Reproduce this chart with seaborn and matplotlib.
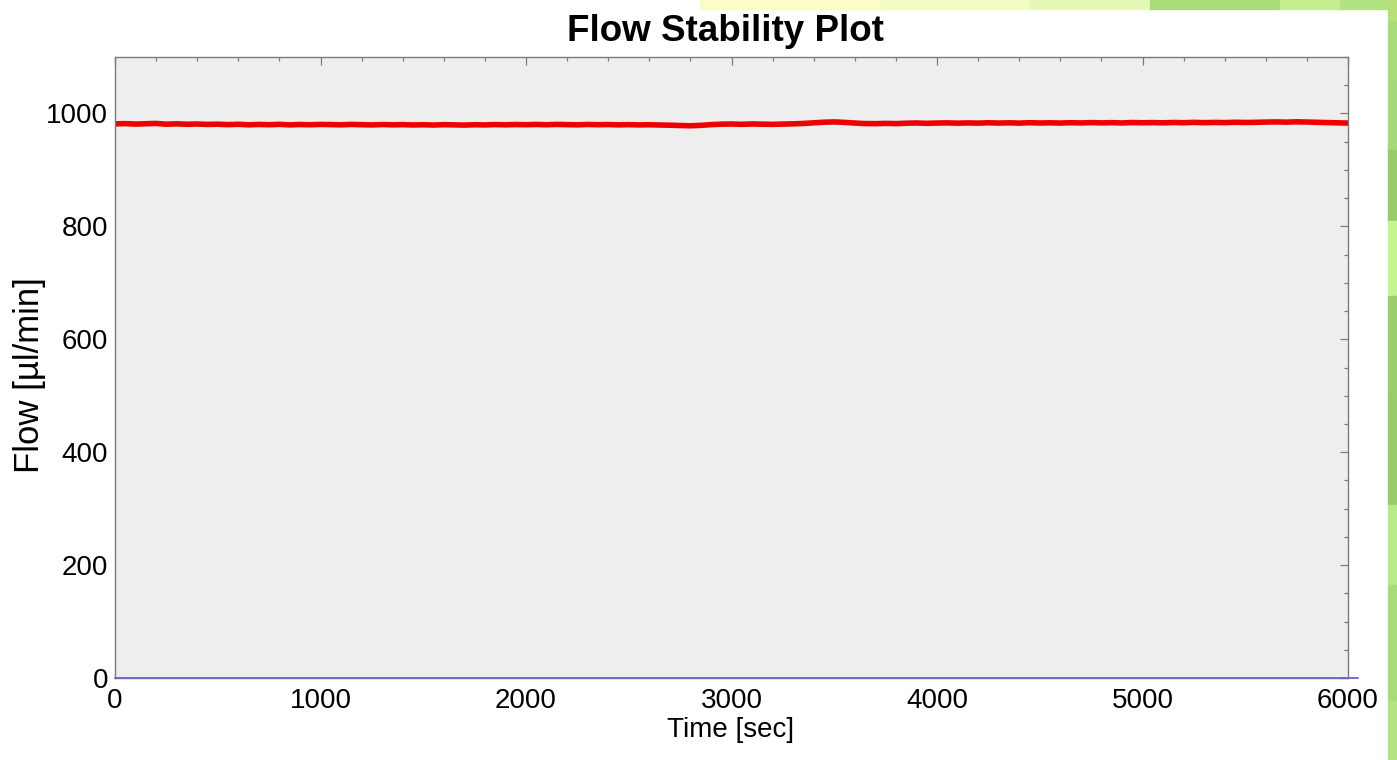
import numpy as np
import pandas as pd
import matplotlib
matplotlib.use("Agg")
import matplotlib.pyplot as plt
from matplotlib.patches import Rectangle
from matplotlib.ticker import MultipleLocator
import seaborn as sns

# ---------------- data ----------------
time_step = 50
flow_red = [
    981.5, 982.0, 981.2, 981.8, 982.3, 981.0, 981.6, 980.9, 981.3, 980.6, 981.0,
    980.2, 980.8, 979.9, 980.5, 980.1, 980.7, 979.8, 980.4, 980.0, 980.6,
    980.3, 979.9, 980.6, 980.1, 979.7, 980.4, 979.9, 980.2, 979.6, 980.0,
    979.5, 980.1, 979.8, 979.4, 980.0, 979.7, 980.3, 979.9, 980.4, 980.1,
    980.5, 980.0, 980.6, 980.2, 979.9, 980.5, 980.1, 980.4, 979.8, 980.2,
    979.7, 980.0, 979.5, 979.2, 978.6, 978.2, 978.9, 980.2, 981.0, 981.3,
    980.8, 981.4, 981.0, 980.7, 981.2, 981.6, 982.3, 983.4, 984.5, 985.0,
    984.2, 983.0, 982.1, 981.9, 982.4, 982.0, 982.7, 983.1, 982.5, 983.0,
    983.3, 982.8, 983.2, 982.9, 983.5, 983.0, 983.4, 982.9, 983.6, 983.1,
    983.4, 983.0, 983.6, 983.2, 983.8, 983.3, 983.7, 983.2, 983.9, 983.5,
    983.8, 983.4, 984.0, 983.6, 984.2, 983.7, 984.1, 983.8, 984.4, 984.0,
    984.3, 984.7, 985.0, 984.6, 985.2, 984.8, 984.3, 983.8, 983.4, 983.0,
]
time_red = np.arange(len(flow_red)) * time_step

time_blue = [0, 6050]
flow_blue = [0, 0]

title = "Flow Stability Plot"
xlabel = "Time [sec]"
ylabel = "Flow [µl/min]"
xticks = [0, 1000, 2000, 3000, 4000, 5000, 6000]
yticks = [0, 200, 400, 600, 800, 1000]

df_red = pd.DataFrame({"time": time_red, "flow": flow_red})
df_blue = pd.DataFrame({"time": time_blue, "flow": flow_blue})

# ---------------- style ----------------
sns.set_theme(style="white")
plt.rcParams["font.family"] = ["Liberation Sans", "DejaVu Sans"]
plt.rcParams["text.color"] = "black"
plt.rcParams["axes.labelcolor"] = "black"

W, H = 1397, 760
fig = plt.figure(figsize=(W / 100, H / 100), dpi=100)
fig.patch.set_facecolor("white")

def fx(px):
    return px / W

def fy(py):
    return 1 - py / H

# decorative background (top band and right strip)
top_h = 9
deco = [
    ((700, 0), 180, "#fbfdc8"),
    ((880, 0), 150, "#f1fbc4"),
    ((1030, 0), 120, "#e6f8b8"),
    ((1150, 0), 130, "#a9dc78"),
    ((1280, 0), 60, "#c6f090"),
    ((1340, 0), 57, "#b2e282"),
]
for (x0, y0), w, c in deco:
    fig.patches.append(Rectangle((fx(x0), fy(top_h)), w / W, top_h / H,
                                 transform=fig.transFigure, color=c, zorder=0))
strip = [(0, 22, "#b8e07a"), (22, 80, "#a8dc78"), (80, 150, "#a5d878"),
         (150, 221, "#9acb6a"), (221, 296, "#c4f590"), (296, 393, "#9ccd6c"),
         (393, 505, "#9acb6a"), (505, 585, "#b8ea88"), (585, 701, "#a8dc78"),
         (701, 760, "#b5e384")]
for y0, y1, c in strip:
    fig.patches.append(Rectangle((fx(1388), fy(y1)), 9 / W, (y1 - y0) / H,
                                 transform=fig.transFigure, color=c, zorder=0))

ax_l, ax_r, ax_t, ax_b = 115, 1348, 57, 678
ax = fig.add_axes([ax_l / W, (H - ax_b) / H, (ax_r - ax_l) / W, (ax_b - ax_t) / H])
ax.set_facecolor("#eeeeee")

sns.lineplot(data=df_red, x="time", y="flow", ax=ax, color="#ee0000",
             linewidth=4.0, estimator=None, sort=False)
sns.lineplot(data=df_blue, x="time", y="flow", ax=ax, color="#6666cc",
             linewidth=1.3, estimator=None, sort=False)
blue = ax.lines[-1]
blue.set_clip_on(False)
blue.set_zorder(5)

ax.set_xlim(0, 6000)
ax.set_ylim(0, 1100)
ax.set_xticks(xticks)
ax.set_yticks(yticks)
ax.xaxis.set_minor_locator(MultipleLocator(200))
ax.yaxis.set_minor_locator(MultipleLocator(50))

tick_col = "#7a7a7a"
ax.tick_params(which="both", direction="in", top=True, right=True,
               color=tick_col, width=0.9)
ax.tick_params(which="major", length=5.5, labelsize=20, labelcolor="black")
ax.tick_params(which="minor", length=3.2)
ax.tick_params(axis="x", which="major", pad=7)
ax.tick_params(axis="y", which="major", pad=5)
for sp in ax.spines.values():
    sp.set_visible(True)
    sp.set_color(tick_col)
    sp.set_linewidth(1.0)

ax.set_xlabel(xlabel, fontsize=20, color="black")
ax.xaxis.set_label_coords((731 - ax_l) / (ax_r - ax_l), (ax_b - 737) / (ax_b - ax_t))
ax.xaxis.label.set_va("baseline")
ax.set_ylabel(ylabel, fontsize=25, color="black")
ax.yaxis.label.set_va("center")
ax.yaxis.set_label_coords((30 - ax_l) / (ax_r - ax_l), (ax_b - 375) / (ax_b - ax_t))

fig.text(725 / W, 1 - 41 / H, title, ha="center", va="baseline",
         fontsize=26.5, fontweight="bold", color="black")

fig.savefig("out.png", dpi=100)
